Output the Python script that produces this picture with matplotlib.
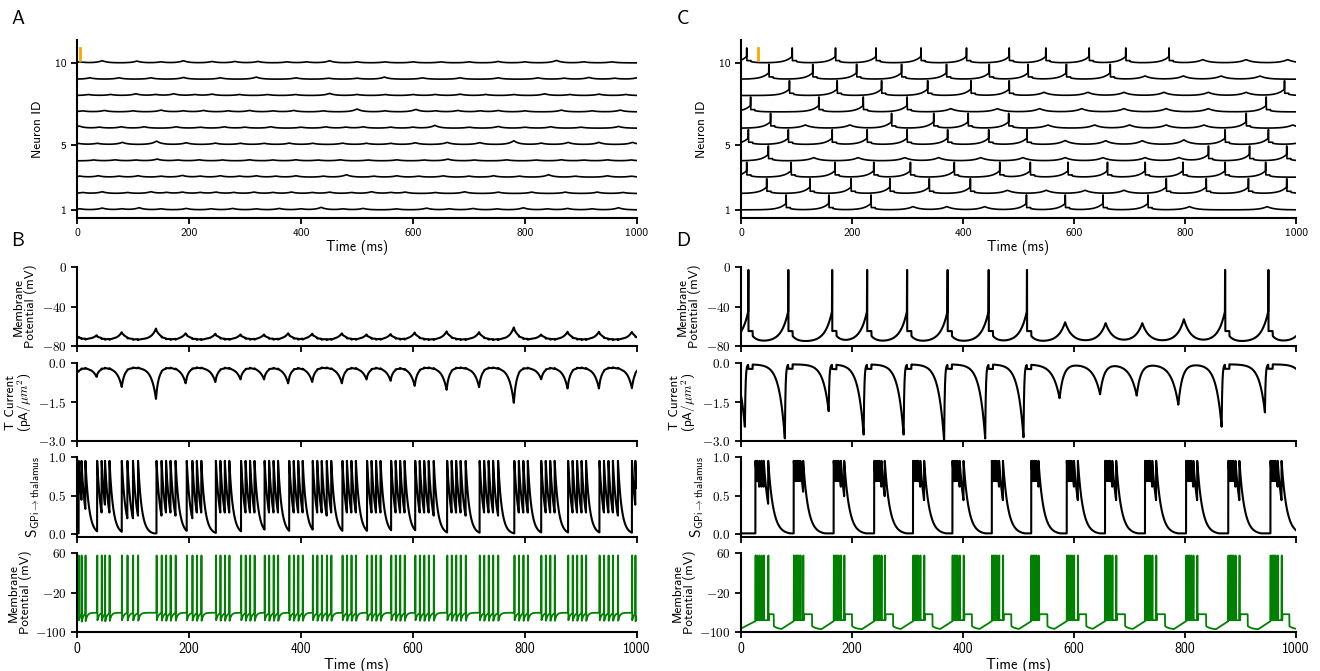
import numpy as np
import matplotlib
matplotlib.use("Agg")
import matplotlib.pyplot as plt
from matplotlib.ticker import FuncFormatter

plt.rcParams['font.family'] = ['cmss10', 'DejaVu Sans']
plt.rcParams['mathtext.fontset'] = 'cm'
plt.rcParams['axes.unicode_minus'] = False
plt.rcParams['axes.linewidth'] = 1.5

# ---------------- data ----------------
time_ticks = [0, 200, 400, 600, 800, 1000]
neuron_ticks = [1, 5, 10]

# Panel A: hump times (ms) and hump heights (mV above rest) for neurons 1..10 (healthy)
A_hump_t = {
    1: [5, 45, 80, 111, 150, 195, 240, 278, 320, 361, 400, 436, 475, 511, 570, 624, 665, 707, 750, 797, 840, 876, 920, 967],
    2: [10, 45, 90, 132, 160, 188, 220, 248, 280, 316, 350, 383, 420, 451, 490, 526, 560, 586, 640, 692, 752, 812, 872, 929, 975],
    3: [5, 38, 75, 109, 150, 188, 220, 256, 290, 320, 355, 391, 440, 481, 530, 571, 610, 654, 700, 744, 790, 842, 890, 947, 990],
    4: [30, 68, 105, 143, 180, 218, 260, 308, 350, 391, 430, 470, 520, 571, 620, 662, 710, 767, 820, 865, 905, 947, 990],
    5: [3, 36, 81, 142, 195, 247, 292, 334, 379, 421, 474, 517, 560, 604, 661, 719, 780, 829, 877, 932, 992],
    6: [4, 40, 79, 120, 177, 220, 263, 300, 346, 400, 444, 480, 511, 560, 600, 639, 700, 752, 800, 846, 900, 967],
    7: [10, 49, 100, 150, 190, 226, 270, 308, 350, 387, 440, 500, 550, 605, 640, 680, 720, 752, 800, 865, 920, 970],
    8: [20, 60, 105, 140, 173, 210, 241, 290, 340, 390, 451, 500, 550, 600, 640, 684, 730, 780, 835, 880, 932, 980],
    9: [23, 75, 132, 190, 256, 320, 391, 449, 500, 549, 617, 684, 752, 823, 870, 914, 960, 1000],
    10: [5, 45, 107, 150, 190, 241, 282, 323, 375, 410, 451, 500, 550, 600, 650, 700, 752, 800, 856, 905, 955],
}
A_hump_h = {
    1: [3, 5, 3, 6, 3, 4, 3, 4, 3, 4, 3, 7, 3, 4, 3, 5, 3, 4, 3, 6, 3, 4, 3, 6],
    2: [3, 5, 3, 5, 3, 4, 3, 4, 3, 4, 3, 4, 3, 4, 3, 5, 3, 4, 3, 5, 4, 4, 4, 4, 3],
    3: [3, 4, 3, 4, 3, 5, 3, 4, 3, 4, 3, 4, 3, 7, 3, 4, 3, 4, 3, 4, 3, 7, 3, 4, 3],
    4: [2.5, 3, 2.5, 5, 2.5, 3, 2.5, 3, 2.5, 3, 2.5, 3, 2.5, 3, 2.5, 5, 2.5, 3, 2.5, 3, 2.5, 3, 2.5],
    5: [3, 3.5, 6, 9.5, 5, 4, 3.5, 3.5, 4, 3.5, 4, 3.5, 3.5, 5, 6, 5.5, 10.5, 4, 6, 6, 6],
    6: [6, 3, 4, 4, 4, 3, 4, 3, 4, 3, 4, 3, 4, 3, 3, 8, 3, 5, 3, 4, 3, 5],
    7: [3, 4, 3, 5, 3, 4, 3, 4, 3, 4, 3, 8, 3, 7, 3, 4, 3, 4, 3, 5, 3, 5],
    8: [3, 3, 5, 3, 5, 3, 4, 3, 3, 3, 6, 3, 3, 3, 3, 4, 3, 3, 5, 3, 4, 3],
    9: [4, 4, 4, 5, 4, 6, 4, 3, 3, 6, 4, 4, 4, 4, 3, 5, 3, 4],
    10: [3, 6, 5, 3, 6, 4, 4, 4, 3, 3, 6, 3, 3, 3, 3, 3, 4, 3, 7, 3, 3],
}
# Panel B: T current dips of neuron 5 (ms, depth pA/um^2)
B_dip_t = [3, 35, 80, 141, 194, 247, 292, 334, 377, 420, 473, 517, 560, 603, 660, 718, 780, 829, 876, 932, 991]
B_dip_d = [0.15, 0.35, 0.75, 1.2, 0.6, 0.55, 0.45, 0.45, 0.6, 0.55, 0.6, 0.45, 0.5, 0.7, 0.85, 0.75, 1.35, 0.45, 0.8, 0.8, 0.8]
# Panel B: GPi spike times (ms)
B_gpi_spikes = [3, 8, 15,
                36, 44, 50, 58,
                80, 90, 100, 109,
                142, 151, 159, 167, 176,
                196, 206, 214, 222,
                248, 256, 264, 272,
                293, 301, 309, 317,
                335, 343, 351, 359,
                379, 387, 395, 403,
                421, 429, 437, 446, 454,
                474, 482, 490, 498,
                518, 526, 534, 542,
                561, 569, 577, 585,
                604, 612, 620, 628, 637,
                661, 669, 677, 685, 694,
                719, 727, 735, 743, 752,
                781, 789, 797, 805,
                829, 837, 845, 853,
                877, 885, 893, 901, 909,
                933, 941, 949, 957, 966,
                991, 997]

# Panel C: spike times (ms) and subthreshold humps (ms, peak mV) for neurons 1..10 (parkinsonian)
C_spikes = {
    1: [81, 158, 234, 514, 584, 652, 733],
    2: [46, 124, 198, 268, 339, 413, 766, 838, 914, 983],
    3: [10, 90, 169, 239, 305, 384, 466, 521, 589, 660, 728, 796, 872, 945],
    4: [49, 842, 916, 983],
    5: [13, 85, 164, 227, 299, 372, 446, 515, 872, 950, 1020],
    6: [53, 271, 347, 409, 482, 910],
    7: [17, 140, 220, 299, 946],
    8: [87, 173, 253, 336, 414, 483, 979],
    9: [50, 129, 208, 289, 370, 447, 517, 586, 665],
    10: [10, 92, 170, 243, 324, 406, 483, 549, 627, 693, 771],
}
C_hump_t = {
    1: [310, 371, 439, 808, 948],
    2: [480, 550, 620, 690],
    3: [],
    4: [131, 211, 295, 356, 432, 508, 584, 652, 728, 789],
    5: [584, 657, 723, 798],
    6: [116, 196, 553, 637, 700, 766, 834, 994],
    7: [378, 462, 538, 614, 690, 766, 842],
    8: [546, 625, 690, 762, 842, 910],
    9: [728, 797, 865, 935],
    10: [832, 910, 985],
}
C_hump_v = {k: [-60] * len(v) for k, v in C_hump_t.items()}
C_hump_v[5] = [-56, -57, -57, -53]
# Panel D: T current depth at each spike / hump of neuron 5
D_spike_depth = [2.4, 2.85, 1.8, 2.7, 2.7, 2.95, 2.85, 2.8, 2.4, 1.85, 0.7]
D_hump_depth = [1.3, 1.15, 1.2, 1.55]
# Panel D: GPi bursts (spike times) and end of post-burst plateau (ms)
D_bursts = [
    [26, 29, 33, 37, 41, 49],
    [95, 98, 101, 104, 107, 112],
    [167, 170, 173, 176, 180, 186],
    [240, 243, 246, 249, 253, 259],
    [310, 313, 316, 319, 323, 330],
    [381, 384, 387, 390, 394, 401],
    [452, 455, 458, 461, 465, 472],
    [523, 526, 529, 532, 536],
    [587, 590, 593, 596, 600, 607],
    [656, 659, 662, 665, 669, 676],
    [728, 731, 734, 737, 741, 748],
    [802, 805, 808, 811, 815, 822],
    [878, 881, 884, 887, 891, 898],
    [954, 957, 960, 963, 967, 974],
]
D_plateau_end = [59, 128, 200, 274, 345, 416, 487, 552, 622, 692, 764, 838, 913, 988]

# ---------------- trace construction ----------------
t = np.arange(0, 1000.05, 0.1)


def cusp(times, amps, tau_up, tau_down):
    out = np.zeros_like(t)
    for tc, a in zip(times, amps):
        d = t - tc
        out += a * np.where(d < 0, np.exp(np.clip(d / tau_up, -60, 0)),
                            np.exp(-np.clip(d / tau_down, 0, 60)))
    return out


def teeth(spk, amp, tau):
    out = np.zeros_like(t)
    for s in spk:
        d = t - s
        m = d >= 0
        out[m] += amp * np.exp(-d[m] / tau)
    return out


def thal_v(spk, hump_t, hump_v, vmin=-76.0):
    v = np.full_like(t, vmin)
    for s in spk:
        d = t - s
        pre = d < 0
        v[pre] += (-45 - vmin) * np.exp(np.clip(d[pre] / 12, -60, 0))
        plat = (d >= 0) & (d < 8)
        v[plat] += (-65 - vmin)
        aft = d >= 8
        v[aft] += (-70 - vmin) * np.exp(-np.clip((d[aft] - 8) / 9, 0, 60))
    for h, hv in zip(hump_t, hump_v):
        v += (hv - vmin) * np.exp(-np.abs(t - h) / 12)
    for s in spk:
        v[(t >= s) & (t < s + 0.5)] = -3
    return v


def thal_it(spk, depth, hump_t, hump_d):
    i = np.full_like(t, -0.05)
    for s, dp in zip(spk, depth):
        td = s - 6
        d = t - td
        pre = d < 0
        i[pre] -= dp * np.exp(np.clip(d[pre] / 10, -60, 0))
        mid = (d >= 0) & (t < s)
        i[mid] -= dp * np.exp(-d[mid] / 1.2)
        plat = (t >= s) & (t < s + 8)
        i[plat] -= 0.17
    for h, dp in zip(hump_t, hump_d):
        d = t - (h - 10)
        i -= dp * np.where(d < 0, np.exp(np.clip(d / 12, -60, 0)), np.exp(-np.clip(d / 7, 0, 60)))
    return i


def synapse(spk, tau, floor=0.012):
    s = np.full_like(t, floor)
    for sp in spk:
        d = t - sp
        m = d >= 0
        s[m] = np.maximum(0.95 * np.exp(-d[m] / tau), floor)
    return s


def gpi_b(spk):
    v = np.full_like(t, -61.0)
    for s in spk:
        d = t - s
        m = d > 0
        v[m] -= 18 * np.exp(-d[m] / 3)
    v = np.maximum(v, -80)
    for s in spk:
        v[(t >= s) & (t < s + 0.5)] = 55
    return v


def gpi_d(bursts, pend):
    v = np.empty_like(t)
    onsets = [b[0] for b in bursts] + [1070]
    m = t < onsets[0]
    v[m] = -93 + (t[m] / onsets[0]) * 15
    for k, b in enumerate(bursts):
        last = b[-1]
        m = (t >= b[0]) & (t < last + 1.5)
        v[m] = -76
        for s in b:
            d = t - s
            mm = m & (d > 0)
            v[mm] = np.minimum(v[mm], -72 - 6 * np.exp(-d[mm] / 1.5))
        m = (t >= last + 1.5) & (t < pend[k])
        v[m] = -64
        nxt = onsets[k + 1]
        rs = nxt - 22
        m = (t >= pend[k]) & (t < rs)
        v[m] = -88 - 7 * (1 - np.exp(-(t[m] - pend[k]) / 8))
        vr = -88 - 7 * (1 - np.exp(-(rs - pend[k]) / 8))
        m = (t >= max(rs, pend[k])) & (t < nxt)
        v[m] = vr + (t[m] - rs) / 22 * (-78 - vr)
        for s in b:
            v[(t >= s) & (t < s + 0.5)] = 55
    return v


# ---------------- figure ----------------
fig = plt.figure(figsize=(13.2, 6.71), dpi=100)
W, H = 1320.0, 671.0


def add_ax(x0, x1, y0, y1):
    return fig.add_axes([x0 / W, 1 - y1 / H, (x1 - x0) / W, (y1 - y0) / H])


def style(ax):
    for s in ['top', 'right']:
        ax.spines[s].set_visible(False)
    ax.tick_params(direction='out', length=4, width=1.3, labelsize=8.3)
    ax.set_xlim(0, 1000)
    ax.set_xticks(time_ticks)


def raster(ax, traces, x0, x1):
    style(ax)
    for row, y in traces.items():
        ax.plot(t, y, color='black', lw=1.2)
    ax.set_ylim(0.5, 11.4)
    ax.set_yticks(neuron_ticks)
    ax.set_ylabel('Neuron ID', fontsize=9.5)
    ax.yaxis.set_label_coords(-33.0 / (x1 - x0), 0.5)
    ax.set_xlabel('Time (ms)', fontsize=10, labelpad=1)


# Panel A
axA = add_ax(77, 637, 40, 218)
A_traces = {}
for n in range(1, 11):
    v = -74 + cusp(A_hump_t[n], A_hump_h[n], 9, 9)
    A_traces[n] = n + (v + 74) / 45
raster(axA, A_traces, 77, 637)
axA.plot([5, 5], [10.2, 10.9], color='orange', lw=2)

# Panel C
axC = add_ax(741, 1296, 40, 218)
C_traces = {}
for n in range(1, 11):
    v = thal_v(C_spikes[n], C_hump_t[n], C_hump_v[n])
    C_traces[n] = n + (v + 76) / 80
raster(axC, C_traces, 741, 1296)
axC.plot([30, 30], [10.2, 10.9], color='orange', lw=2)

math_fmt0 = FuncFormatter(lambda v, p: r'$%d$' % v)
math_fmt1 = FuncFormatter(lambda v, p: r'$%.1f$' % v)

rows_y = [(267, 346), (363, 441), (457, 537), (553, 632)]
label_off = [40, 43, 35, 45]   # px from axis to right edge of y label


def column(x0, x1, vm, it, s, g):
    axs = [add_ax(x0, x1, a, b) for a, b in rows_y]
    for ax in axs:
        style(ax)
        ax.tick_params(axis='y', labelsize=9.5)
    a1, a2, a3, a4 = axs
    a1.plot(t, vm, color='black', lw=1.5)
    a1.set_ylim(-80, 0)
    a1.set_yticks([-80, -40, 0])
    a1.yaxis.set_major_formatter(math_fmt0)
    a1.set_ylabel('Membrane\nPotential (mV)', fontsize=9.5, linespacing=0.9)
    a2.plot(t, it, color='black', lw=1.5)
    a2.set_ylim(-3.0, 0.0)
    a2.set_yticks([-3.0, -1.5, 0.0])
    a2.yaxis.set_major_formatter(math_fmt1)
    a2.set_ylabel('T Current\n(pA$/\\mu m^2$)', fontsize=9.5, linespacing=0.9)
    a3.plot(t, s, color='black', lw=1.5)
    a3.set_ylim(-0.035, 1.0)
    a3.set_yticks([0.0, 0.5, 1.0])
    a3.yaxis.set_major_formatter(math_fmt1)
    a3.set_ylabel(r'$\mathsf{S}_{\mathsf{GPi\rightarrow thalamus}}$', fontsize=11)
    a4.plot(t, g, color='green', lw=1.3)
    a4.set_ylim(-100, 60)
    a4.set_yticks([-100, -20, 60])
    a4.yaxis.set_major_formatter(math_fmt0)
    a4.set_ylabel('Membrane\nPotential (mV)', fontsize=9.5, linespacing=0.9)
    for ax, off in zip(axs, label_off):
        ax.yaxis.set_label_coords(-off / (x1 - x0), 0.5)
    for ax in (a1, a2, a3):
        ax.set_xticklabels([])
    a4.tick_params(axis='x', labelsize=10)
    a4.set_xlabel('Time (ms)', fontsize=10.5, labelpad=1)
    return axs


# Panel B (neuron 5, healthy)
vB = -73.5 + cusp(B_dip_t, [8 * d + 1.5 for d in B_dip_d], 8, 8) - teeth(B_gpi_spikes, 0.9, 2.5)
iB = -0.18 - cusp(B_dip_t, B_dip_d, 8, 5) + teeth(B_gpi_spikes, 0.03, 2.5)
sB = synapse(B_gpi_spikes, 6.5)
gB = gpi_b(B_gpi_spikes)
column(77, 637, vB, iB, sB, gB)

# Panel D (neuron 5, parkinsonian)
vD = thal_v(C_spikes[5], C_hump_t[5], C_hump_v[5])
iD = thal_it(C_spikes[5], D_spike_depth, C_hump_t[5], D_hump_depth)
allD = [s for b in D_bursts for s in b]
sD = synapse(allD, 9)
gD = gpi_d(D_bursts, D_plateau_end)
column(741, 1296, vD, iD, sD, gD)

for lab, x, y in [('A', 18, 19), ('B', 18, 241), ('C', 683, 19), ('D', 683, 241)]:
    fig.text(x / W, 1 - y / H, lab, fontsize=14, ha='center', va='center')

fig.savefig('out.png', dpi=100)
